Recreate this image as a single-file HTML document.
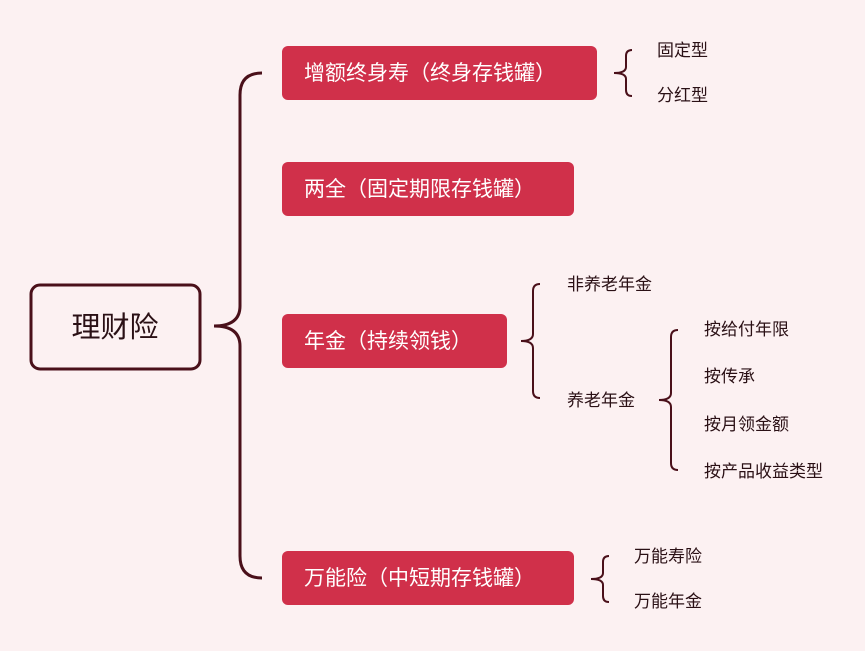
<!DOCTYPE html>
<html><head><meta charset="utf-8"><style>
body{margin:0;background:#fcf1f2;}
svg{display:block}
text{font-family:"Liberation Sans","Noto Sans CJK SC",sans-serif;}
</style></head><body>
<svg width="865" height="651" viewBox="0 0 865 651" xmlns="http://www.w3.org/2000/svg">
<rect width="865" height="651" fill="#fcf1f2"/>
<g fill="none" stroke="#4a101a" stroke-width="3">
<path d="M262 73 Q240 73 240 95 L240 306 Q240 326 214 326 Q240 326 240 346 L240 556 Q240 578 262 578"/>
</g>
<rect x="31" y="285" width="169" height="84" rx="9" fill="none" stroke="#4a101a" stroke-width="3"/>
<text x="115" y="337" font-size="29" fill="#2a1015" text-anchor="middle">理财险</text>
<g fill="#d0304a">
<rect x="282" y="46" width="315" height="54" rx="6"/>
<rect x="282" y="162" width="292" height="54" rx="6"/>
<rect x="282" y="314" width="225" height="54" rx="6"/>
<rect x="282" y="551" width="292" height="54" rx="6"/>
</g>
<g font-size="21" fill="#fff">
<text x="304" y="80">增额终身寿（终身存钱罐）</text>
<text x="304" y="196">两全（固定期限存钱罐）</text>
<text x="304" y="348">年金（持续领钱）</text>
<text x="304" y="585">万能险（中短期存钱罐）</text>
</g>
<g fill="none" stroke="#4a101a" stroke-width="2">
<path d="M632 50 Q626 50 626 56 L626 67 Q626 73 614 73 Q626 73 626 79 L626 90 Q626 96 632 96"/>
<path d="M540 284 Q533 284 533 291 L533 334 Q533 341 521 341 Q533 341 533 348 L533 391 Q533 398 540 398"/>
<path d="M678 330 Q671 330 671 337 L671 393 Q671 400 659 400 Q671 400 671 407 L671 463 Q671 470 678 470"/>
<path d="M609 556 Q603 556 603 562 L603 573 Q603 579 591 579 Q603 579 603 585 L603 596 Q603 602 609 602"/>
</g>
<g font-size="17" fill="#2a1015">
<text x="657" y="56">固定型</text>
<text x="657" y="101">分红型</text>
<text x="567" y="290">非养老年金</text>
<text x="567" y="406">养老年金</text>
<text x="704" y="335">按给付年限</text>
<text x="704" y="382">按传承</text>
<text x="704" y="430">按月领金额</text>
<text x="704" y="477">按产品收益类型</text>
<text x="634" y="562">万能寿险</text>
<text x="634" y="607">万能年金</text>
</g>
</svg>
</body></html>
